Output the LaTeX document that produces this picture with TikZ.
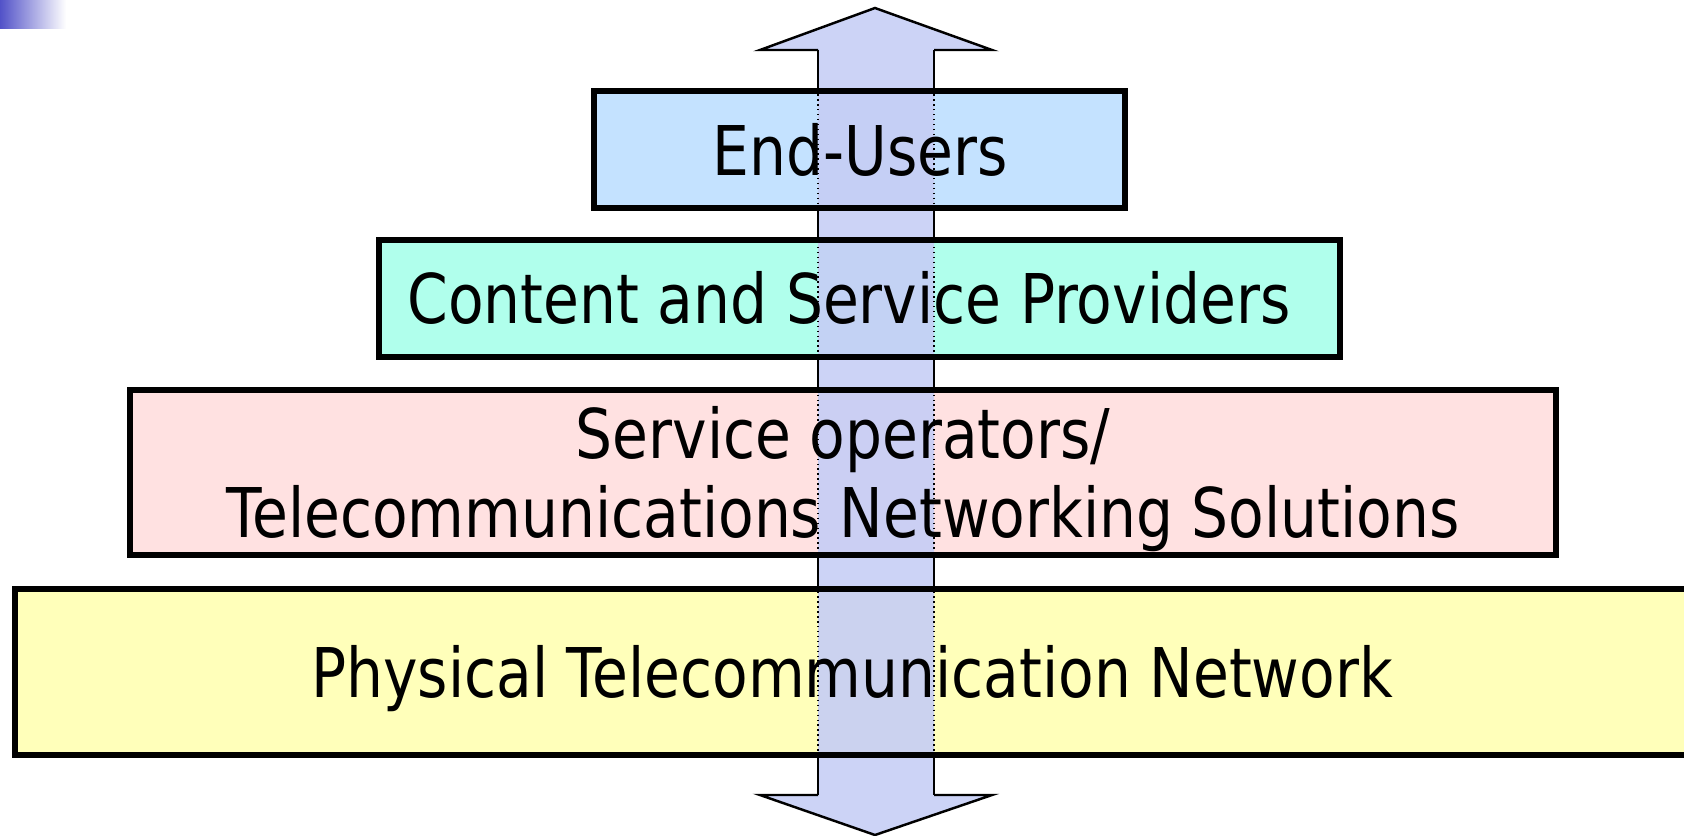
\documentclass[tikz,border=0pt]{standalone}
\usepackage{fontspec}
\setmainfont{DejaVu Sans}[FakeStretch=0.85]
\definecolor{eucol}{RGB}{196,226,255}
\definecolor{cscol}{RGB}{176,255,236}
\definecolor{socol}{RGB}{255,225,225}
\definecolor{ptcol}{RGB}{255,255,186}
\definecolor{arrcol}{RGB}{198,206,245}
\definecolor{cornercol}{RGB}{82,82,200}
\begin{document}
\begin{tikzpicture}[x=0.01cm,y=-0.01cm,
  border/.style={draw=black,line width=1.7pt},
  aline/.style={draw=black,line width=0.7pt,line join=miter},
  dotline/.style={draw=black,line width=0.4pt,densely dotted},
  lab/.style={font=\fontsize{19.5}{22.5}\selectfont,text=black,inner sep=0pt,anchor=base}]
\useasboundingbox (0,0) rectangle (1684,836);
% corner gradient
\shade[left color=cornercol,right color=white] (0,0) rectangle (66,28);
% layer corners
\coordinate (eu-nw) at (594,91);   \coordinate (eu-se) at (1125,208);
\coordinate (cs-nw) at (379,240);  \coordinate (cs-se) at (1340,357);
\coordinate (so-nw) at (130,390);  \coordinate (so-se) at (1556,555);
\coordinate (pt-nw) at (15,589);   \coordinate (pt-se) at (1700,755);
% fills
\fill[eucol] (eu-nw) rectangle (eu-se);
\fill[cscol] (cs-nw) rectangle (cs-se);
\fill[socol] (so-nw) rectangle (so-se);
\fill[ptcol] (pt-nw) rectangle (pt-se);
% arrow
\coordinate (at) at (875,8);
\coordinate (ahl) at (760,50);  \coordinate (ahr) at (992,50);
\coordinate (asl) at (818,50);  \coordinate (asr) at (934,50);
\coordinate (bsl) at (818,795); \coordinate (bsr) at (934,795);
\coordinate (bhl) at (760,795); \coordinate (bhr) at (992,795);
\coordinate (ab) at (875,835);
\fill[arrcol,fill opacity=0.9] (at) -- (ahr) -- (asr) -- (bsr) -- (bhr) -- (ab) -- (bhl) -- (bsl) -- (asl) -- (ahl) -- cycle;
\draw[aline] (asl) -- (ahl) -- (at) -- (ahr) -- (asr);
\draw[aline] (bsl) -- (bhl) -- (ab) -- (bhr) -- (bsr);
\draw[dotline] (asl) -- (bsl);
\draw[dotline] (asr) -- (bsr);
\foreach \a/\b in {50/91,208/240,357/390,555/589,755/795}{
  \draw[aline] (818,\a) -- (818,\b);
  \draw[aline] (934,\a) -- (934,\b);
}
% borders
\draw[border] (eu-nw) rectangle (eu-se);
\draw[border] (cs-nw) rectangle (cs-se);
\draw[border] (so-nw) rectangle (so-se);
\draw[border] (pt-nw) rectangle (pt-se);
% texts
\node[lab] (eu) at (860,175) {End-Users};
\node[lab] (cs) at (849,323) {Content and Service Providers};
\node[lab] (so1) at (843,458) {Service operators/};
\node[lab] (so2) at (843,537) {Telecommunications Networking Solutions};
\node[lab] (pt) at (852,697) {Physical Telecommunication Network};
\end{tikzpicture}
\end{document}
